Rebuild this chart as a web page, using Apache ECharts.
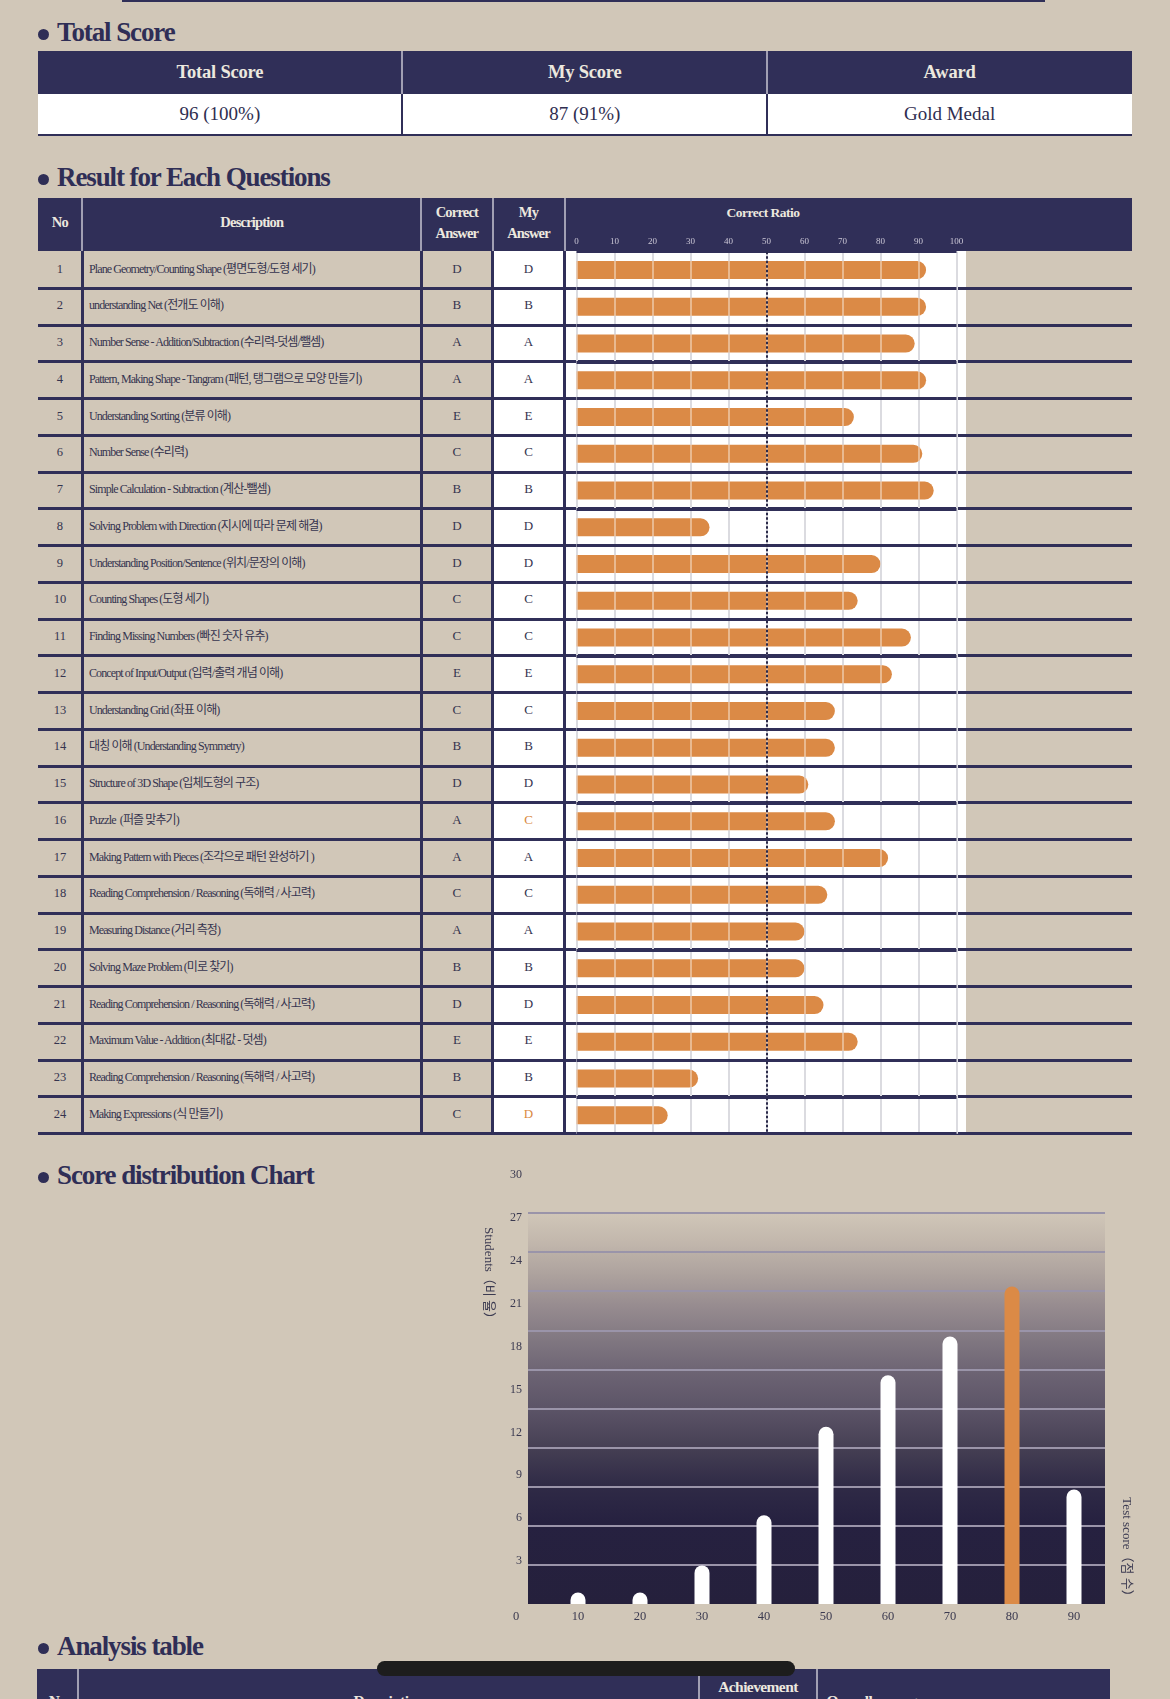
<!DOCTYPE html>
<html>
<head>
<meta charset="utf-8">
<script src="https://cdn.jsdelivr.net/npm/echarts@6/dist/echarts.min.js"></script>
<style>
html,body{margin:0;padding:0;width:1170px;height:1699px;overflow:hidden;background:#d1c7b8;}
body{position:relative;font-family:'Liberation Serif','Noto Sans CJK KR',serif;}
#ratio,#dist{position:absolute;z-index:5;}
</style>
</head>
<body>
<div id="ratio" style="left:564.5px;top:198px;width:567.5px;height:936px;"></div>
<div id="dist" style="left:440px;top:1150px;width:730px;height:500px;"></div>
<script>
// ---------------- data ----------------
const totalHeaders = ['Total Score', 'My Score', 'Award'];
const totalValues = ['96 (100%)', '87 (91%)', 'Gold Medal'];

const questionHeaders = ['No', 'Description', 'Correct\nAnswer', 'My\nAnswer', 'Correct Ratio'];
const questionNos = ['1','2','3','4','5','6','7','8','9','10','11','12','13','14','15','16','17','18','19','20','21','22','23','24'];
const questionDescriptions = [
  'Plane Geometry/Counting Shape (평면도형/도형 세기)',
  'understanding Net (전개도 이해)',
  'Number Sense - Addition/Subtraction (수리력-덧셈/뺄셈)',
  'Pattern, Making Shape - Tangram (패턴, 탱그램으로 모양 만들기)',
  'Understanding Sorting (분류 이해)',
  'Number Sense (수리력)',
  'Simple Calculation - Subtraction (계산-뺄셈)',
  'Solving Problem with Direction (지시에 따라 문제 해결)',
  'Understanding Position/Sentence (위치/문장의 이해)',
  'Counting Shapes (도형 세기)',
  'Finding Missing Numbers (빠진 숫자 유추)',
  'Concept of Input/Output (입력/출력 개념 이해)',
  'Understanding Grid (좌표 이해)',
  '대칭 이해 (Understanding Symmetry)',
  'Structure of 3D Shape (입체도형의 구조)',
  'Puzzle  (퍼즐 맞추기)',
  'Making Pattern with Pieces (조각으로 패턴 완성하기 )',
  'Reading Comprehension / Reasoning (독해력 / 사고력)',
  'Measuring Distance (거리 측정)',
  'Solving Maze Problem (미로 찾기)',
  'Reading Comprehension / Reasoning (독해력 / 사고력)',
  'Maximum Value - Addition (최대값 - 덧셈)',
  'Reading Comprehension / Reasoning (독해력 / 사고력)',
  'Making Expressions (식 만들기)'
];
const correctAnswers = ['D','B','A','A','E','C','B','D','D','C','C','E','C','B','D','A','A','C','A','B','D','E','B','C'];
const myAnswers      = ['D','B','A','A','E','C','B','D','D','C','C','E','C','B','D','C','A','C','A','B','D','E','B','D'];
const correctRatio = [92,92,89,92,73,91,94,35,80,74,88,83,68,68,61,68,82,66,60,60,65,74,32,24];
const ratioReference = 50;

const scoreBins = [10,20,30,40,50,60,70,80,90];
const studentShare = [0.8,0.8,2.7,6.2,12.4,16,18.7,22.2,8];
const myScoreBin = 80;

const sectionTitles = ['Total Score', 'Result for Each Questions', 'Score distribution Chart', 'Analysis table'];
const analysisHeaders = ['No', 'Description', 'Achievement', 'Overall average'];

// ---------------- styles ----------------
const NAVY = '#302f58';
const TITLE = '#2f2e56';
const HEAD_TXT = '#ece8df';
const HEAD_DIV = '#a19fb3';
const BODY_TXT = '#35344f';
const ORANGE = '#db8a46';
const FONT = "'Liberation Serif','Noto Sans CJK KR',serif";

function box(css, text) {
  const d = document.createElement('div');
  d.style.cssText = 'position:absolute;white-space:pre;' + css;
  if (text != null) d.textContent = text;
  document.body.appendChild(d);
  return d;
}

// top border remnant
box(`left:122px;top:0;width:923px;height:2px;background:${NAVY};`);

// section titles
function title(text, baseline) {
  box(`left:37.5px;top:${baseline - 13.5}px;width:11px;height:11px;border-radius:50%;background:${TITLE};`);
  box(`left:57px;top:${baseline - 22.6}px;font:bold 27px/27px ${FONT};letter-spacing:-1.1px;color:${TITLE};`, text);
}
title(sectionTitles[0], 42);
title(sectionTitles[1], 187);
title(sectionTitles[2], 1185);
title(sectionTitles[3], 1656);

// ---------- Total score table ----------
const TL = 37.5, TW = 1094.5;
box(`left:${TL}px;top:51px;width:${TW}px;height:43px;background:${NAVY};`);
box(`left:${TL}px;top:94px;width:${TW}px;height:40px;background:#ffffff;`);
box(`left:${TL}px;top:133.5px;width:${TW}px;height:2.5px;background:${NAVY};`);
const cw = TW / totalHeaders.length;
totalHeaders.forEach((h, i) => {
  const x = TL + cw * i;
  box(`left:${x}px;top:51px;width:${cw}px;height:43px;text-align:center;font:bold 18.5px/42px ${FONT};letter-spacing:-0.2px;color:${HEAD_TXT};`, h);
  box(`left:${x}px;top:94px;width:${cw}px;height:40px;text-align:center;font:19px/40px ${FONT};color:#2f2e50;`, totalValues[i]);
  if (i > 0) {
    box(`left:${x - 1}px;top:51px;width:2px;height:43px;background:${HEAD_DIV};`);
    box(`left:${x - 1}px;top:94px;width:2px;height:41px;background:${NAVY};`);
  }
});

// ---------- Question table ----------
const colX = [37.5, 82.3, 421.3, 492.5, 564.5, 1132];
const ROW0 = 251.7, RH = 36.75, NR = questionNos.length;
const HT = 198, HB = 250.5;
box(`left:${TL}px;top:${HT}px;width:${TW}px;height:${HB - HT}px;background:${NAVY};`);
// white backgrounds
box(`left:${colX[3]}px;top:${HB}px;width:${colX[4] - colX[3]}px;height:${ROW0 + NR * RH - HB}px;background:#fff;`);
box(`left:${colX[4]}px;top:${HB}px;width:${966 - colX[4]}px;height:${ROW0 + NR * RH - HB}px;background:#fff;`);
// header dividers
for (let c = 1; c <= 4; c++) box(`left:${colX[c] - 1}px;top:${HT}px;width:2px;height:${HB - HT}px;background:${HEAD_DIV};`);
// header texts
const hStyle = `font:bold 14.5px/21px ${FONT};letter-spacing:-0.8px;color:${HEAD_TXT};text-align:center;`;
box(`left:${colX[0]}px;top:${222 - 10.5}px;width:${colX[1] - colX[0]}px;${hStyle}`, questionHeaders[0]);
box(`left:${colX[1]}px;top:${222 - 10.5}px;width:${colX[2] - colX[1]}px;${hStyle}`, questionHeaders[1]);
box(`left:${colX[2]}px;top:201.5px;width:${colX[3] - colX[2]}px;${hStyle}`, questionHeaders[2]);
box(`left:${colX[3]}px;top:201.5px;width:${colX[4] - colX[3]}px;${hStyle}`, questionHeaders[3]);
box(`left:663px;top:${212.7 - 10.5}px;width:200px;font:bold 13.5px/21px ${FONT};letter-spacing:-0.5px;color:${HEAD_TXT};text-align:center;`, questionHeaders[4]);
// row lines
for (let k = 1; k <= NR; k++) box(`left:${TL}px;top:${ROW0 + k * RH - 1.5}px;width:${TW}px;height:3px;background:${NAVY};`);
for (let c = 1; c <= 4; c++) box(`left:${colX[c] - 1.25}px;top:${HB}px;width:2.5px;height:${ROW0 + NR * RH + 1.5 - HB}px;background:${NAVY};`);
// row texts
questionNos.forEach((no, i) => {
  const yc = ROW0 + (i + 0.5) * RH - 1.5;
  const t = yc - 10;
  box(`left:${colX[0]}px;top:${t}px;width:${colX[1] - colX[0]}px;height:20px;text-align:center;font:12.5px/20px ${FONT};color:${BODY_TXT};`, no);
  box(`left:89px;top:${t}px;height:20px;font:12px/20px ${FONT};letter-spacing:-0.9px;color:${BODY_TXT};`, questionDescriptions[i]);
  box(`left:${colX[2]}px;top:${t}px;width:${colX[3] - colX[2]}px;height:20px;text-align:center;font:13px/20px ${FONT};color:${BODY_TXT};`, correctAnswers[i]);
  const wrong = myAnswers[i] !== correctAnswers[i];
  box(`left:${colX[3]}px;top:${t}px;width:${colX[4] - colX[3]}px;height:20px;text-align:center;font:13px/20px ${FONT};color:${wrong ? '#d9893f' : BODY_TXT};`, myAnswers[i]);
});

// ---------- Analysis table header ----------
const AL = 37.4, AR = 1110;
box(`left:${AL}px;top:1669px;width:${AR - AL}px;height:40px;background:${NAVY};`);
[77.8, 699.3, 816.7].forEach(x => box(`left:${x - 1}px;top:1669px;width:2px;height:40px;background:${HEAD_DIV};`));
const aStyle = `font:bold 15.5px/20px ${FONT};letter-spacing:-0.6px;color:${HEAD_TXT};`;
box(`left:${AL}px;top:1691px;width:${77.8 - AL}px;text-align:center;${aStyle}`, analysisHeaders[0]);
box(`left:77.8px;top:1691px;width:${699.3 - 77.8}px;text-align:center;${aStyle}`, analysisHeaders[1]);
box(`left:699.3px;top:1677px;width:${816.7 - 699.3}px;text-align:center;${aStyle}`, analysisHeaders[2]);
box(`left:826.5px;top:1691px;${aStyle}`, analysisHeaders[3]);
// phone overlay pill
box(`left:377px;top:1661px;width:418px;height:15px;border-radius:7.5px;background:#1d1d1d;z-index:10;`);

// ---------- Correct ratio chart ----------
const rc = echarts.init(document.getElementById('ratio'));
rc.setOption({
  animation: false,
  grid: { left: 11.5, top: ROW0 - HT, width: 380, height: NR * RH },
  xAxis: [
    { type: 'value', position: 'top', min: 0, max: 100, interval: 10, z: 0,
      axisLine: { show: false }, axisTick: { show: false },
      axisLabel: { color: '#cbc7d6', fontSize: 9, fontFamily: FONT, margin: 6 },
      splitLine: { show: true, lineStyle: { color: '#c4c4cc', width: 2 } } },
    { type: 'value', position: 'top', min: 0, max: 100, interval: 10, z: 3,
      axisLine: { show: false }, axisTick: { show: false }, axisLabel: { show: false },
      splitLine: { show: true, lineStyle: { color: 'rgba(255,255,255,0.4)', width: 2 } } }
  ],
  yAxis: {
    type: 'category', data: questionNos, inverse: true, z: 4,
    axisLine: { show: false }, axisTick: { show: false }, axisLabel: { show: false },
    splitLine: { show: true, lineStyle: { color: NAVY, width: 3 } }
  },
  series: [{
    type: 'bar', data: correctRatio, barWidth: 18, xAxisIndex: 0,
    itemStyle: { color: ORANGE, borderRadius: [0, 9, 9, 0] },
    markLine: {
      silent: true, symbol: 'none', label: { show: false },
      lineStyle: { color: '#2a2949', width: 2, type: [2.5, 2] },
      data: [{ xAxis: ratioReference }]
    }
  }]
});

// ---------- Score distribution chart ----------
const dc = echarts.init(document.getElementById('dist'));
const LBL = '#3b3a50';
dc.setOption({
  animation: false,
  grid: [
    { left: 76, top: 25, width: 589, height: 429 },
    { left: 88, top: 63, width: 577, height: 391, show: true, borderWidth: 0,
      backgroundColor: new echarts.graphic.LinearGradient(0, 0, 0, 1, [
        { offset: 0, color: '#d0c6b8' },
        { offset: 0.07, color: '#c3b8ad' },
        { offset: 0.15, color: '#afa49f' },
        { offset: 0.24, color: '#968b8f' },
        { offset: 0.33, color: '#7f7680' },
        { offset: 0.41, color: '#6c6373' },
        { offset: 0.5, color: '#5c5467' },
        { offset: 0.56, color: '#4f485c' },
        { offset: 0.61, color: '#433d52' },
        { offset: 0.70, color: '#2f2a46' },
        { offset: 0.79, color: '#262140' },
        { offset: 1, color: '#25203c' }
      ]) }
  ],
  xAxis: [
    { gridIndex: 0, type: 'value', min: 0, max: 95, interval: 10,
      axisLine: { show: false }, axisTick: { show: false }, splitLine: { show: false },
      axisLabel: { color: LBL, fontSize: 12.5, fontFamily: FONT, margin: 6, showMaxLabel: false } },
    { gridIndex: 1, type: 'value', min: 0, max: 1, show: false }
  ],
  yAxis: [
    { gridIndex: 0, type: 'value', min: 0, max: 30, interval: 3,
      axisLine: { show: false }, axisTick: { show: false }, splitLine: { show: false },
      axisLabel: { color: LBL, fontSize: 12, fontFamily: FONT, margin: -6, showMinLabel: false } },
    { gridIndex: 1, type: 'value', min: 0, max: 10, interval: 1,
      axisLine: { show: false }, axisTick: { show: false }, axisLabel: { show: false },
      splitLine: { show: true, showMinLine: false, lineStyle: { color: '#9a94a9', width: 2 } } }
  ],
  series: [{
    type: 'bar', xAxisIndex: 0, yAxisIndex: 0, barWidth: 15,
    itemStyle: { borderRadius: [7.5, 7.5, 0, 0] },
    data: scoreBins.map((x, i) => ({
      value: [x, studentShare[i]],
      itemStyle: { color: x === myScoreBin ? ORANGE : '#ffffff' }
    }))
  }],
  graphic: [
    { type: 'text', x: 48, y: 126, rotation: -Math.PI / 2, silent: true,
      style: { text: 'Students（비 율）', fill: LBL, font: "13px 'Liberation Serif','Noto Sans CJK KR'", align: 'center', verticalAlign: 'middle' } },
    { type: 'text', x: 686, y: 400, rotation: -Math.PI / 2, silent: true,
      style: { text: 'Test score（점 수）', fill: LBL, font: "13px 'Liberation Serif','Noto Sans CJK KR'", align: 'center', verticalAlign: 'middle' } }
  ]
});
</script>
</body>
</html>
